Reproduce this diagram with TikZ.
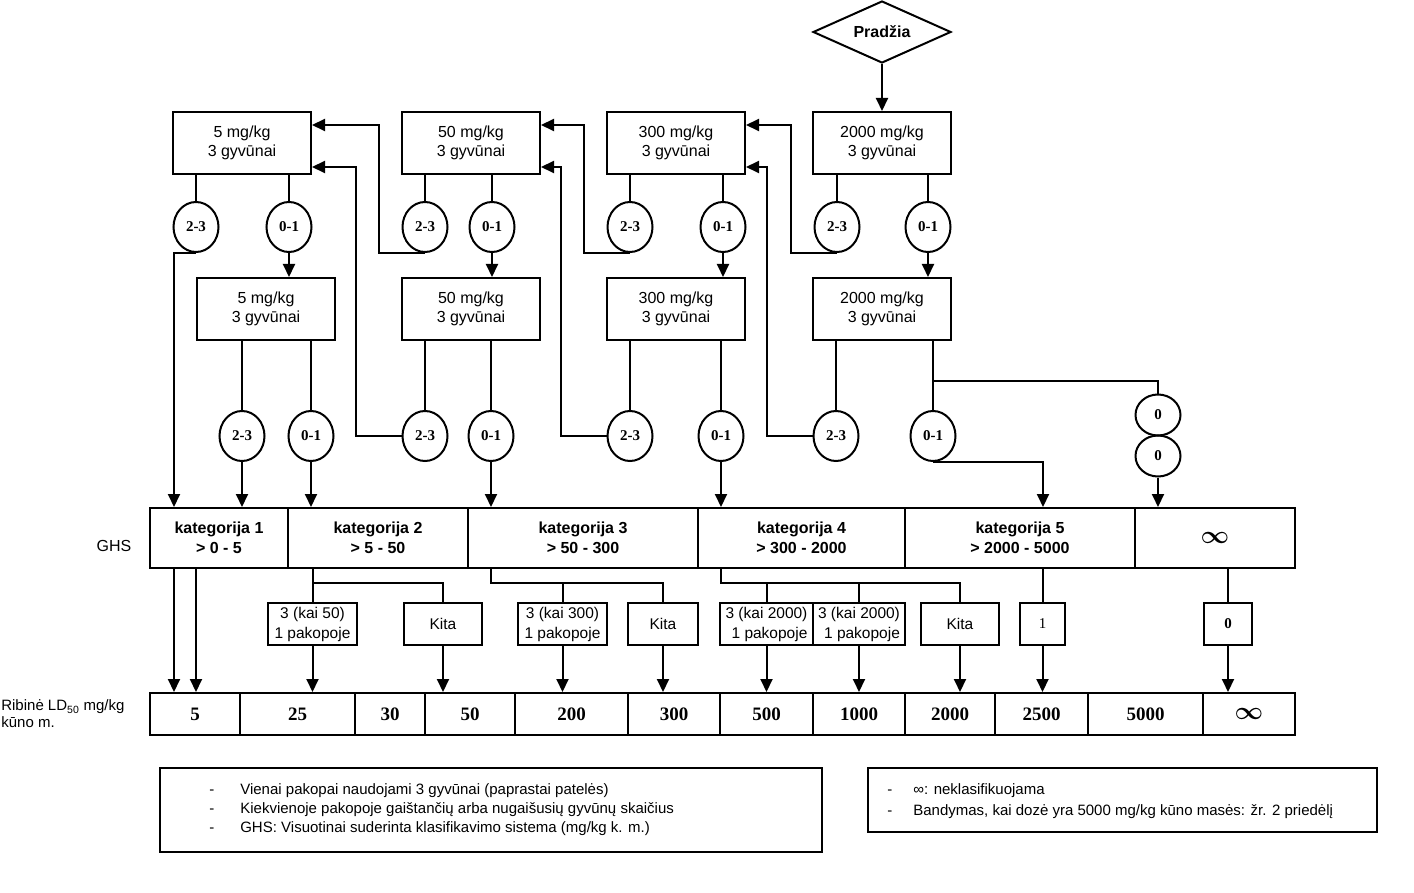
\documentclass[tikz,border=0pt]{standalone}
\usepackage{amsmath}
\usepackage{fontspec}
\setmainfont{Liberation Sans}
\newfontfamily\numfont{Liberation Serif}
\usetikzlibrary{arrows.meta,shapes.geometric}

\begin{document}
\begin{tikzpicture}[x=1pt,y=-1pt,line width=2pt,
  >={Triangle[length=13pt,width=12pt]},
  dose/.style={draw,minimum width=138pt,minimum height=62pt,align=center,
    font=\fontsize{16}{19}\selectfont},
  res/.style={draw,ellipse,minimum width=45pt,minimum height=50pt,inner sep=0pt,
    font=\numfont\bfseries\fontsize{15}{16}\selectfont},
  cat/.style={draw,minimum height=60pt,align=center,
    font=\bfseries\fontsize{16}{20}\selectfont},
  ld/.style={draw,minimum height=42pt,font=\numfont\bfseries\fontsize{19}{20}\selectfont},
  pick/.style={draw,minimum height=42pt,inner sep=1pt,align=center,
    font=\fontsize{15.5}{20}\selectfont}]
  \useasboundingbox (0,0) rectangle (1414,893);

  \node[draw,diamond,aspect=2.2,minimum width=138pt,minimum height=62pt,inner sep=0pt,
    font=\bfseries\fontsize{16}{19}\selectfont] (start) at (882,32) {Pradžia};

  \node[dose] (d1a) at (242,143) {5 mg/kg\\3 gyvūnai};
  \node[dose] (d2a) at (471,143) {50 mg/kg\\3 gyvūnai};
  \node[dose] (d3a) at (676,143) {300 mg/kg\\3 gyvūnai};
  \node[dose] (d4a) at (882,143) {2000 mg/kg\\3 gyvūnai};
  \node[dose] (d1b) at (266,309) {5 mg/kg\\3 gyvūnai};
  \node[dose] (d2b) at (471,309) {50 mg/kg\\3 gyvūnai};
  \node[dose] (d3b) at (676,309) {300 mg/kg\\3 gyvūnai};
  \node[dose] (d4b) at (882,309) {2000 mg/kg\\3 gyvūnai};

  \node[res] (a1h) at (196,227) {2-3};
  \node[res] (a1l) at (289,227) {0-1};
  \node[res] (a2h) at (425,227) {2-3};
  \node[res] (a2l) at (492,227) {0-1};
  \node[res] (a3h) at (630,227) {2-3};
  \node[res] (a3l) at (723,227) {0-1};
  \node[res] (a4h) at (837,227) {2-3};
  \node[res] (a4l) at (928,227) {0-1};
  \node[res] (b1h) at (242,436) {2-3};
  \node[res] (b1l) at (311,436) {0-1};
  \node[res] (b2h) at (425,436) {2-3};
  \node[res] (b2l) at (491,436) {0-1};
  \node[res] (b3h) at (630,436) {2-3};
  \node[res] (b3l) at (721,436) {0-1};
  \node[res] (b4h) at (836,436) {2-3};
  \node[res] (b4l) at (933,436) {0-1};
  \node[res,minimum height=41pt] (z1) at (1158,415) {0};
  \node[res,minimum height=41pt] (z2) at (1158,456) {0};

  \node (ghs) at (114,546) {\fontsize{16}{19}\selectfont GHS};
  \node[cat,minimum width=138pt] (k1) at (219,538) {kategorija 1\\> 0 - 5};
  \node[cat,minimum width=180pt] (k2) at (378,538) {kategorija 2\\> 5 - 50};
  \node[cat,minimum width=230pt] (k3) at (583,538) {kategorija 3\\> 50 - 300};
  \node[cat,minimum width=207pt] (k4) at (801.5,538) {kategorija 4\\> 300 - 2000};
  \node[cat,minimum width=230pt] (k5) at (1020,538) {kategorija 5\\> 2000 - 5000};
  \node[cat,minimum width=160pt] (kinf) at (1215,538) {\fontsize{34}{34}\selectfont$\boldsymbol{\infty}$};

  \node[pick,minimum width=89pt] (s1) at (312.5,624) {3 (kai 50)\\1 pakopoje};
  \node[pick,minimum width=78pt] (s2) at (443,624) {Kita};
  \node[pick,minimum width=89pt] (s3) at (562.5,624) {3 (kai 300)\\1 pakopoje};
  \node[pick,minimum width=70pt] (s4) at (663,624) {Kita};
  \node[pick,minimum width=93pt] (s5) at (766.5,624) {3 (kai 2000)\\\hfill 1 pakopoje};
  \node[pick,minimum width=92pt] (s6) at (859,624) {3 (kai 2000)\\\hfill 1 pakopoje};
  \node[pick,minimum width=78pt] (s7) at (960,624) {Kita};
  \node[pick,minimum width=45pt,font=\numfont\fontsize{15}{16}\selectfont] (s8) at (1042.5,624) {1};
  \node[pick,minimum width=48pt,font=\numfont\bfseries\fontsize{15}{16}\selectfont] (s9) at (1228,624) {0};

  \node[anchor=west,align=left,font=\fontsize{15}{17}\selectfont] (ldname) at (-3,714)
    {Ribinė LD\textsubscript{50} mg/kg\\kūno m.};
  \node[ld,minimum width=90pt] (l1) at (195,714) {5};
  \node[ld,minimum width=115pt] (l2) at (297.5,714) {25};
  \node[ld,minimum width=70pt] (l3) at (390,714) {30};
  \node[ld,minimum width=90pt] (l4) at (470,714) {50};
  \node[ld,minimum width=113pt] (l5) at (571.5,714) {200};
  \node[ld,minimum width=92pt] (l6) at (674,714) {300};
  \node[ld,minimum width=93pt] (l7) at (766.5,714) {500};
  \node[ld,minimum width=92pt] (l8) at (859,714) {1000};
  \node[ld,minimum width=90pt] (l9) at (950,714) {2000};
  \node[ld,minimum width=93pt] (l10) at (1041.5,714) {2500};
  \node[ld,minimum width=115pt] (l11) at (1145.5,714) {5000};
  \node[ld,minimum width=92pt,font=\fontsize{24}{24}\selectfont] (l12) at (1249,714) {\raisebox{-4pt}{$\boldsymbol{\infty}$}};

  \node[draw,minimum width=662pt,minimum height=84pt] (notes1) at (491,810) {};
  \node[anchor=west,align=left,font=\fontsize{15}{19}\selectfont] (notes1txt) at (205,810)
    {\makebox[31pt][l]{-}Vienai pakopai naudojami 3 gyvūnai (paprastai patelės)\\
     \makebox[31pt][l]{-}Kiekvienoje pakopoje gaištančių arba nugaišusių gyvūnų skaičius\\
     \makebox[31pt][l]{-}GHS: Visuotinai suderinta klasifikavimo sistema (mg/kg k. m.)};
  \node[draw,minimum width=509pt,minimum height=64pt] (notes2) at (1122.5,800) {};
  \node[anchor=west,align=left,font=\fontsize{15}{21}\selectfont] (notes2txt) at (883,801)
    {\makebox[26pt][l]{-}∞: neklasifikuojama\\
     \makebox[26pt][l]{-}Bandymas, kai dozė yra 5000 mg/kg kūno masės: žr. 2 priedėlį};

  \draw[->] (start.south) -- (d4a.north);
  \draw (d1a.south -| a1h) -- (a1h.north);
  \draw (d1a.south -| a1l) -- (a1l.north);
  \draw (d2a.south -| a2h) -- (a2h.north);
  \draw (d2a.south -| a2l) -- (a2l.north);
  \draw (d3a.south -| a3h) -- (a3h.north);
  \draw (d3a.south -| a3l) -- (a3l.north);
  \draw (d4a.south -| a4h) -- (a4h.north);
  \draw (d4a.south -| a4l) -- (a4l.north);
  \draw[->] (a1l.south) -- (a1l.south |- d1b.north);
  \draw[->] (a2l.south) -- (a2l.south |- d2b.north);
  \draw[->] (a3l.south) -- (a3l.south |- d3b.north);
  \draw[->] (a4l.south) -- (a4l.south |- d4b.north);
  \draw[->] (a1h.south) -| (k1.north -| 174,0);
  \draw[->] (a2h.south) -- ++(-46,0) |- ([yshift=18pt]d1a.east);
  \draw[->] (a3h.south) -- ++(-46,0) |- ([yshift=18pt]d2a.east);
  \draw[->] (a4h.south) -- ++(-46,0) |- ([yshift=18pt]d3a.east);

  \draw (d1b.south -| b1h) -- (b1h.north);
  \draw (d1b.south -| b1l) -- (b1l.north);
  \draw (d2b.south -| b2h) -- (b2h.north);
  \draw (d2b.south -| b2l) -- (b2l.north);
  \draw (d3b.south -| b3h) -- (b3h.north);
  \draw (d3b.south -| b3l) -- (b3l.north);
  \draw (d4b.south -| b4h) -- (b4h.north);
  \draw (d4b.south -| b4l) -- (b4l.north);
  \draw (b4l.north |- 0,381) -| (z1.north);
  \draw[->] (b2h.west) -- ++(-46,0) |- ([yshift=-24pt]d1a.east);
  \draw[->] (b3h.west) -- ++(-46,0) |- ([yshift=-24pt]d2a.east);
  \draw[->] (b4h.west) -- ++(-46,0) |- ([yshift=-24pt]d3a.east);
  \draw[->] (b1h.south) -- (b1h.south |- k1.north);
  \draw[->] (b1l.south) -- (b1l.south |- k2.north);
  \draw[->] (b2l.south) -- (b2l.south |- k3.north);
  \draw[->] (b3l.south) -- (b3l.south |- k4.north);
  \draw[->] (b4l.south) -| (k5.north -| 1043,0);
  \draw[->] (z2.south) -- (z2.south |- kinf.north);

  \draw[->] (k1.south -| 174,0) -- (l1.north -| 174,0);
  \draw[->] (k1.south -| 196,0) -- (l1.north -| 196,0);
  \draw (k2.south -| s1.north) -- (s1.north);
  \draw (s1.north |- 0,583) -| (s2.north);
  \draw (k3.south -| 491,0) -- (491,583) -| (s4.north);
  \draw (s3.north |- 0,583) -- (s3.north);
  \draw (k4.south -| 721,0) -- (721,583) -| (s7.north);
  \draw (s5.north |- 0,583) -- (s5.north);
  \draw (s6.north |- 0,583) -- (s6.north);
  \draw (k5.south -| s8.north) -- (s8.north);
  \draw (kinf.south -| s9.north) -- (s9.north);
  \draw[->] (s1.south) -- (s1.south |- l2.north);
  \draw[->] (s2.south) -- (s2.south |- l4.north);
  \draw[->] (s3.south) -- (s3.south |- l5.north);
  \draw[->] (s4.south) -- (s4.south |- l6.north);
  \draw[->] (s5.south) -- (s5.south |- l7.north);
  \draw[->] (s6.south) -- (s6.south |- l8.north);
  \draw[->] (s7.south) -- (s7.south |- l9.north);
  \draw[->] (s8.south) -- (s8.south |- l10.north);
  \draw[->] (s9.south) -- (s9.south |- l12.north);
\end{tikzpicture}
\end{document}
